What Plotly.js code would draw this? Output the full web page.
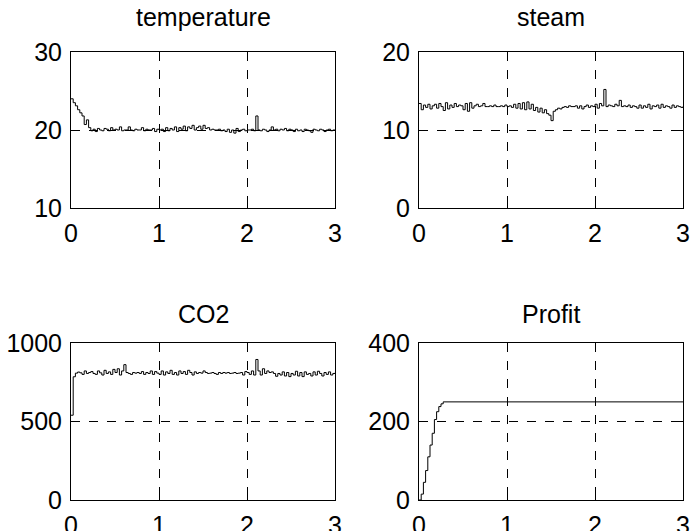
<!DOCTYPE html>
<html>
<head>
<meta charset="utf-8">
<script src="https://cdn.plot.ly/plotly-3.0.1.min.js"></script>
<style>html,body{margin:0;padding:0;background:#fff;}#chart{width:690px;height:531px;}</style>
</head>
<body>
<div id="chart"></div>
<script>
// Sampling of the simulated series (hours)
const sampleStart = 0;
const sampleStep = 0.025;

const temperature = [
  24.0,23.5,23.1,22.6,22.2,21.8,20.7,21.3,20.3,19.9,
  20.1,19.8,20.2,20.0,19.9,20.2,20.1,19.9,20.3,20.0,
  20.1,20.0,20.4,19.9,20.0,20.0,20.4,20.0,19.9,20.1,
  20.0,20.0,20.3,19.9,20.1,20.0,20.0,20.2,19.8,20.1,
  20.0,20.1,19.8,20.3,19.9,20.2,20.0,20.4,19.8,20.3,
  20.1,20.5,19.9,20.4,20.2,20.6,20.0,20.3,20.5,20.1,
  20.6,20.2,20.3,20.0,20.1,20.0,20.0,20.1,19.9,20.0,
  19.8,20.1,19.7,20.0,19.6,20.2,19.8,20.0,20.1,19.9,
  20.0,20.0,20.1,19.9,21.8,20.0,19.9,20.1,20.0,19.8,
  20.0,20.4,20.0,20.1,19.9,20.1,20.0,20.2,19.9,20.1,
  20.0,19.8,20.1,19.9,20.0,19.8,20.1,20.0,19.9,19.7,
  20.1,20.0,19.9,20.1,20.0,19.8,20.0,20.1,19.9,20.0,20.0
];

const steam = [
  13.4,12.6,13.2,12.9,13.3,12.7,13.1,13.3,12.8,13.4,
  13.0,12.5,13.5,12.7,13.2,12.9,13.4,13.0,13.2,13.1,
  12.6,13.4,12.4,13.5,12.8,13.1,13.3,13.0,13.1,13.4,
  13.0,13.0,13.1,13.0,13.2,13.0,13.0,13.1,13.0,13.2,
  13.0,13.1,12.9,13.3,12.8,13.4,12.7,13.5,12.6,13.6,
  12.7,13.3,12.5,12.9,12.3,12.8,12.2,12.6,12.1,11.9,
  11.2,12.4,12.6,12.8,12.7,12.9,13.0,12.9,13.1,13.0,
  13.0,13.1,12.8,13.1,12.7,13.0,13.2,12.9,13.1,13.0,
  13.3,12.8,13.4,13.1,15.2,13.0,13.2,13.1,13.0,13.3,
  13.1,13.8,13.0,13.1,13.0,13.2,12.9,13.1,13.0,12.8,
  13.2,12.8,13.1,12.9,13.3,12.7,13.1,13.0,13.2,12.8,
  13.3,12.9,13.1,13.0,12.8,13.2,12.9,13.1,13.0,12.9,13.0
];

const co2 = [
  540,785,808,815,810,800,822,806,812,818,
  806,800,822,810,796,826,806,816,800,832,
  812,836,796,822,862,812,806,800,812,808,
  812,806,818,800,812,806,822,800,818,808,
  800,822,796,816,806,826,800,812,796,822,
  806,818,800,826,812,796,816,806,812,808,
  822,812,806,808,812,806,800,812,806,812,
  808,812,806,808,812,806,808,812,796,818,
  812,800,822,796,895,822,796,836,806,822,
  812,816,806,788,806,796,816,790,812,786,
  806,796,820,790,812,786,816,800,806,790,
  816,796,820,806,790,812,800,816,796,806,810
];

const profitTime = [0,0.025,0.05,0.075,0.1,0.125,0.15,0.175,0.2,0.225,0.25,0.275,3];
const profit = [0,15,45,75,110,140,170,205,225,238,245,250,250];

const titles = ["temperature","steam","CO2","Profit"];
const yRanges = [[10,30],[0,20],[0,1000],[0,400]];
const yTicks = [[10,20,30],[0,10,20],[0,500,1000],[0,200,400]];
const xTicks = [0,1,2,3];

const FONT = "Liberation Sans, Arial, Helvetica, sans-serif";
const FS = 25;
const line = {color:"#000", width:1, shape:"hv"};

const traces = [
  {x0:sampleStart, dx:sampleStep, y:temperature, xaxis:"x", yaxis:"y", mode:"lines", line:line},
  {x0:sampleStart, dx:sampleStep, y:steam, xaxis:"x2", yaxis:"y2", mode:"lines", line:line},
  {x0:sampleStart, dx:sampleStep, y:co2, xaxis:"x3", yaxis:"y3", mode:"lines", line:line},
  {x:profitTime, y:profit, xaxis:"x4", yaxis:"y4", mode:"lines", line:line}
];

const xd = [[71/690,335/690],[419/690,683/690]];
const yd = [[1-208/531,1-52/531],[1-500/531,1-343/531]];
const titleY = [1-17/531, 1-314/531];

function common(){
  return {showline:true, mirror:"ticks", linecolor:"#000", linewidth:1, ticks:"inside", ticklen:5, tickcolor:"#000",
    showgrid:true, gridcolor:"#000", griddash:"dash", gridwidth:1, zeroline:false,
    tickfont:{family:FONT, size:FS, color:"#000"}, ticklabelstandoff:3, fixedrange:true};
}
function xa(dom, anchor){
  return Object.assign(common(), {domain:dom, anchor:anchor, range:[0,3], tickvals:xTicks, ticktext:xTicks.map(String)});
}
function ya(dom, anchor, i){
  return Object.assign(common(), {domain:dom, anchor:anchor, range:yRanges[i], tickvals:yTicks[i], ticktext:yTicks[i].map(String)});
}

const layout = {
  width:690, height:531, margin:{l:0,r:0,t:0,b:0}, showlegend:false,
  paper_bgcolor:"#fff", plot_bgcolor:"#fff",
  xaxis: xa(xd[0],"y"), yaxis: ya(yd[0],"x",0),
  xaxis2: xa(xd[1],"y2"), yaxis2: ya(yd[0],"x2",1),
  xaxis3: xa(xd[0],"y3"), yaxis3: ya(yd[1],"x3",2),
  xaxis4: xa(xd[1],"y4"), yaxis4: ya(yd[1],"x4",3),
  annotations: titles.map((t,i)=>{
    const dx = xd[i%2];
    return {text:t, xref:"paper", yref:"paper", x:(dx[0]+dx[1])/2, y:titleY[Math.floor(i/2)], xanchor:"center", yanchor:"middle",
      showarrow:false, font:{family:FONT, size:FS, color:"#000"}};
  })
};

Plotly.newPlot("chart", traces, layout, {staticPlot:true, displayModeBar:false});
</script>
</body>
</html>
